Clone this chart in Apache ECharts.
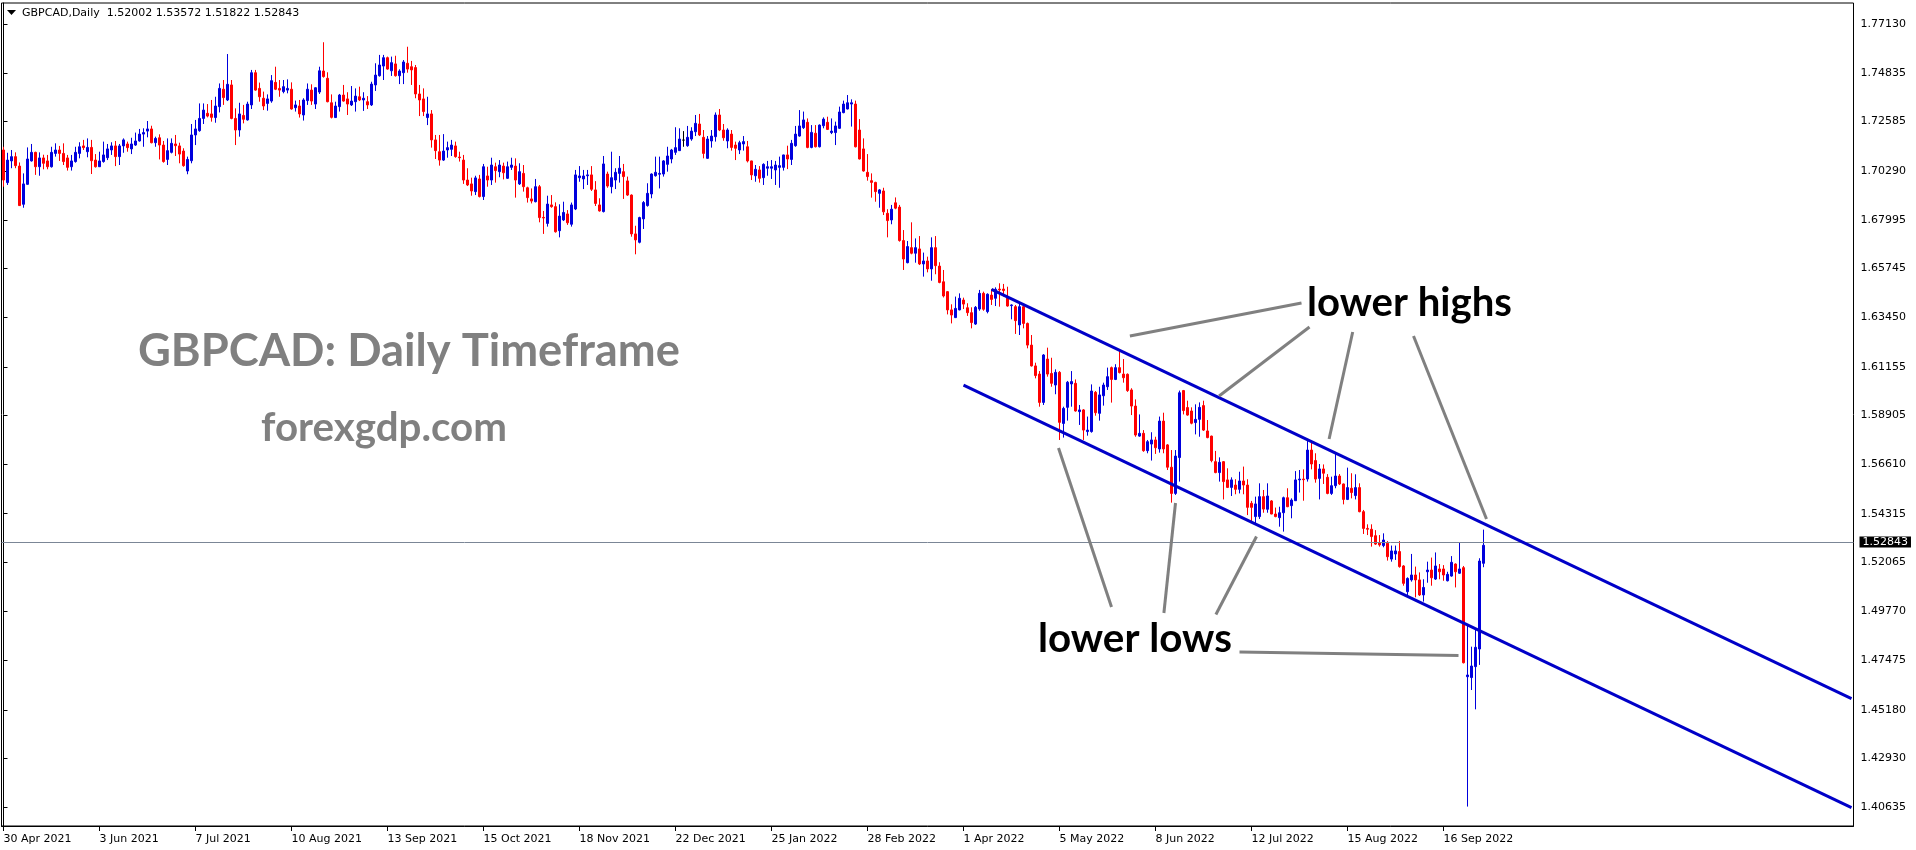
<!DOCTYPE html>
<html><head><meta charset="utf-8">
<script src="https://cdn.jsdelivr.net/npm/echarts@6/dist/echarts.min.js"></script>
<style>html,body{margin:0;padding:0;background:#fff}#c{width:1916px;height:850px}</style>
</head><body><div id="c"></div>
<script>
// ---------- data ----------
const symbolName = 'GBPCAD';
const timeframe = 'Daily';
const dateLabels = ['30 Apr 2021','3 Jun 2021','7 Jul 2021','10 Aug 2021','13 Sep 2021','15 Oct 2021','18 Nov 2021','22 Dec 2021','25 Jan 2022','28 Feb 2022','1 Apr 2022','5 May 2022','8 Jun 2022','12 Jul 2022','15 Aug 2022','16 Sep 2022'];
const barsPerLabel = 24;
const priceTicks = [1.77130,1.74835,1.72585,1.70290,1.67995,1.65745,1.63450,1.61155,1.58905,1.56610,1.54315,1.52065,1.49770,1.47475,1.45180,1.42930,1.40635];
const axisMin = 1.39765, axisMax = 1.78108;
const lastPrice = 1.52843;

const opens = [
1.7126,1.6974,1.7075,1.7095,1.7051,1.6873,1.6966,1.7075,1.7115,1.7048,
1.7089,1.7075,1.7048,1.7110,1.7126,1.7110,1.7089,1.7048,1.7072,1.7110,
1.7145,1.7118,1.7138,1.7079,1.7048,1.7072,1.7090,1.7126,1.7145,1.7095,
1.7145,1.7154,1.7131,1.7149,1.7168,1.7200,1.7214,1.7224,1.7160,1.7183,
1.7149,1.7082,1.7115,1.7154,1.7145,1.7121,1.7028,1.7076,1.7196,1.7216,
1.7273,1.7297,1.7294,1.7277,1.7328,1.7409,1.7359,1.7429,1.7273,1.7219,
1.7287,1.7266,1.7336,1.7486,1.7413,1.7367,1.7343,1.7354,1.7441,1.7413,
1.7398,1.7405,1.7409,1.7323,1.7331,1.7289,1.7356,1.7405,1.7340,1.7396,
1.7494,1.7460,1.7346,1.7277,1.7328,1.7382,1.7364,1.7336,1.7351,1.7374,
1.7359,1.7351,1.7336,1.7429,1.7472,1.7517,1.7556,1.7495,1.7527,1.7472,
1.7486,1.7530,1.7514,1.7510,1.7387,1.7364,1.7277,1.7294,1.7173,1.7118,
1.7079,1.7126,1.7129,1.7145,1.7093,1.7079,1.6986,1.6968,1.6932,1.6991,
1.6909,1.7005,1.6986,1.7048,1.7025,1.7051,1.6994,1.7045,1.7051,1.6968,
1.7017,1.6950,1.6898,1.6885,1.6955,1.6812,1.6784,1.6870,1.6862,1.6750,
1.6800,1.6828,1.6780,1.6851,1.6997,1.6991,1.7006,1.7010,1.6940,1.6870,
1.6839,1.7014,1.6955,1.6986,1.7017,1.7025,1.6982,1.6916,1.6735,1.6696,
1.6805,1.6867,1.6921,1.7006,1.7013,1.7014,1.7059,1.7084,1.7115,1.7123,
1.7172,1.7146,1.7177,1.7211,1.7247,1.7185,1.7087,1.7168,1.7188,1.7289,
1.7219,1.7168,1.7200,1.7149,1.7126,1.7154,1.7141,1.7075,1.7006,1.7033,
1.6997,1.7041,1.7041,1.7033,1.7045,1.7045,1.7103,1.7082,1.7146,1.7191,
1.7230,1.7255,1.7138,1.7204,1.7141,1.7239,1.7255,1.7207,1.7207,1.7227,
1.7300,1.7317,1.7340,1.7340,1.7219,1.7131,1.7022,1.6983,1.6975,1.6924,
1.6935,1.6831,1.6800,1.6880,1.6860,1.6704,1.6601,1.6671,1.6645,1.6665,
1.6595,1.6609,1.6572,1.6671,1.6585,1.6512,1.6466,1.6381,1.6345,1.6381,
1.6427,1.6391,1.6368,1.6315,1.6385,1.6458,1.6373,1.6450,1.6435,1.6478,
1.6478,1.6439,1.6401,1.6396,1.6311,1.6396,1.6318,1.6217,1.6120,1.6082,
1.5950,1.6152,1.6085,1.6031,1.6090,1.5852,1.5927,1.6036,1.6039,1.5907,
1.5915,1.5814,1.5814,1.5997,1.5899,1.5981,1.6023,1.6112,1.6057,1.6112,
1.6082,1.6081,1.6008,1.5933,1.5793,1.5806,1.5725,1.5756,1.5775,1.5733,
1.5863,1.5752,1.5648,1.5526,1.5693,1.6005,1.5926,1.5910,1.5856,1.5871,
1.5935,1.5817,1.5793,1.5674,1.5623,1.5674,1.5589,1.5554,1.5565,1.5545,
1.5584,1.5565,1.5480,1.5418,1.5418,1.5511,1.5452,1.5491,1.5430,1.5413,
1.5436,1.5506,1.5469,1.5492,1.5589,1.5593,1.5593,1.5728,1.5679,1.5596,
1.5640,1.5601,1.5526,1.5562,1.5607,1.5570,1.5498,1.5550,1.5516,1.5553,
1.5441,1.5363,1.5359,1.5329,1.5297,1.5283,1.5294,1.5220,1.5244,1.5255,
1.5188,1.5068,1.5123,1.5146,1.5123,1.5053,1.5161,1.5169,1.5127,1.5174,
1.5174,1.5119,1.5141,1.5197,1.5154,1.5180,1.4672,1.4668,1.4719,1.4801,
1.52002];

const highs = [
1.7141,1.7113,1.7126,1.7115,1.7068,1.7017,1.7138,1.7154,1.7118,1.7115,
1.7104,1.7103,1.7141,1.7157,1.7145,1.7157,1.7103,1.7103,1.7141,1.7162,
1.7173,1.7180,1.7173,1.7107,1.7118,1.7165,1.7154,1.7162,1.7168,1.7154,
1.7180,1.7165,1.7183,1.7207,1.7224,1.7227,1.7261,1.7239,1.7188,1.7199,
1.7168,1.7180,1.7180,1.7196,1.7160,1.7134,1.7095,1.7247,1.7266,1.7343,
1.7343,1.7340,1.7359,1.7374,1.7436,1.7452,1.7573,1.7452,1.7320,1.7346,
1.7336,1.7351,1.7499,1.7499,1.7440,1.7398,1.7385,1.7475,1.7514,1.7452,
1.7452,1.7455,1.7441,1.7356,1.7359,1.7367,1.7436,1.7432,1.7418,1.7514,
1.7628,1.7488,1.7385,1.7351,1.7387,1.7429,1.7395,1.7424,1.7413,1.7421,
1.7395,1.7377,1.7444,1.7530,1.7569,1.7569,1.7561,1.7561,1.7565,1.7502,
1.7545,1.7607,1.7541,1.7522,1.7429,1.7413,1.7374,1.7312,1.7196,1.7196,
1.7200,1.7165,1.7173,1.7165,1.7118,1.7103,1.7041,1.6997,1.7006,1.7010,
1.7061,1.7048,1.7090,1.7067,1.7079,1.7067,1.7072,1.7090,1.7087,1.7064,
1.7056,1.6955,1.6947,1.6991,1.6963,1.6842,1.6913,1.6916,1.6882,1.6873,
1.6885,1.6846,1.6881,1.7033,1.7051,1.7033,1.7033,1.7051,1.6981,1.6901,
1.7098,1.7025,1.7118,1.7041,1.7098,1.7061,1.7002,1.6919,1.6773,1.6815,
1.6888,1.6971,1.7017,1.7095,1.7095,1.7079,1.7141,1.7131,1.7232,1.7227,
1.7214,1.7238,1.7232,1.7289,1.7294,1.7219,1.7191,1.7219,1.7301,1.7317,
1.7247,1.7227,1.7219,1.7165,1.7169,1.7191,1.7168,1.7076,1.7056,1.7051,
1.7064,1.7075,1.7079,1.7075,1.7095,1.7104,1.7146,1.7173,1.7238,1.7312,
1.7305,1.7273,1.7242,1.7242,1.7245,1.7278,1.7281,1.7273,1.7258,1.7328,
1.7356,1.7382,1.7362,1.7356,1.7270,1.7180,1.7107,1.7017,1.6978,1.6944,
1.6950,1.6850,1.6870,1.6905,1.6870,1.6753,1.6702,1.6789,1.6714,1.6725,
1.6648,1.6629,1.6719,1.6725,1.6603,1.6567,1.6469,1.6407,1.6443,1.6458,
1.6438,1.6412,1.6393,1.6399,1.6474,1.6466,1.6458,1.6478,1.6486,1.6505,
1.6502,1.6489,1.6407,1.6404,1.6412,1.6407,1.6322,1.6264,1.6135,1.6096,
1.6175,1.6205,1.6158,1.6104,1.6096,1.5930,1.6050,1.6096,1.6057,1.5938,
1.5919,1.5884,1.6034,1.6003,1.6023,1.6042,1.6112,1.6117,1.6128,1.6189,
1.6152,1.6085,1.6016,1.5964,1.5894,1.5821,1.5775,1.5811,1.5790,1.5884,
1.5902,1.5756,1.5728,1.5728,1.6005,1.6008,1.5958,1.5927,1.5941,1.5950,
1.5958,1.5868,1.5795,1.5724,1.5694,1.5677,1.5643,1.5601,1.5592,1.5627,
1.5651,1.5592,1.5491,1.5511,1.5573,1.5542,1.5573,1.5495,1.5460,1.5464,
1.5511,1.5550,1.5503,1.5630,1.5635,1.5638,1.5770,1.5762,1.5713,1.5663,
1.5661,1.5616,1.5604,1.5713,1.5616,1.5572,1.5646,1.5620,1.5615,1.5573,
1.5449,1.5382,1.5382,1.5355,1.5332,1.5340,1.5304,1.5283,1.5283,1.5304,
1.5192,1.5135,1.5244,1.5185,1.5158,1.5126,1.5208,1.5227,1.5251,1.5197,
1.5192,1.5161,1.5234,1.5200,1.5298,1.5188,1.4913,1.4812,1.4897,1.5224,
1.53572];

const lows = [
1.6955,1.6963,1.7041,1.7041,1.6865,1.6857,1.6964,1.7072,1.7010,1.7006,
1.7036,1.7036,1.7044,1.7095,1.7075,1.7056,1.7030,1.7030,1.7067,1.7087,
1.7126,1.7092,1.7014,1.7044,1.7047,1.7067,1.7079,1.7103,1.7051,1.7056,
1.7113,1.7118,1.7107,1.7145,1.7165,1.7141,1.7185,1.7157,1.7141,1.7082,
1.7067,1.7056,1.7110,1.7098,1.7064,1.7048,1.7013,1.7064,1.7149,1.7211,
1.7247,1.7278,1.7258,1.7253,1.7301,1.7336,1.7354,1.7269,1.7149,1.7188,
1.7250,1.7263,1.7317,1.7402,1.7351,1.7312,1.7309,1.7346,1.7405,1.7374,
1.7390,1.7390,1.7314,1.7305,1.7277,1.7263,1.7336,1.7336,1.7317,1.7387,
1.7463,1.7348,1.7273,1.7275,1.7305,1.7351,1.7289,1.7331,1.7305,1.7354,
1.7308,1.7317,1.7331,1.7401,1.7468,1.7452,1.7500,1.7471,1.7468,1.7433,
1.7433,1.7486,1.7429,1.7367,1.7284,1.7284,1.7242,1.7137,1.7084,1.7053,
1.7075,1.7090,1.7098,1.7090,1.7072,1.6968,1.6958,1.6913,1.6916,1.6905,
1.6893,1.6955,1.6963,1.6974,1.6999,1.6989,1.6991,1.7033,1.6904,1.6963,
1.6932,1.6881,1.6877,1.6882,1.6789,1.6735,1.6769,1.6857,1.6741,1.6719,
1.6795,1.6777,1.6769,1.6846,1.6978,1.6944,1.6963,1.6935,1.6865,1.6839,
1.6835,1.6950,1.6924,1.6944,1.6974,1.6898,1.6912,1.6722,1.6640,1.6691,
1.6758,1.6862,1.6901,1.7002,1.6947,1.7002,1.7025,1.7064,1.7103,1.7121,
1.7141,1.7141,1.7169,1.7191,1.7191,1.7087,1.7084,1.7137,1.7165,1.7214,
1.7169,1.7134,1.7123,1.7079,1.7107,1.7123,1.7068,1.6986,1.6978,1.6974,
1.6963,1.7006,1.6991,1.6963,1.6950,1.7030,1.7037,1.7056,1.7141,1.7188,
1.7224,1.7134,1.7134,1.7138,1.7138,1.7227,1.7219,1.7200,1.7149,1.7224,
1.7297,1.7315,1.7235,1.7138,1.7082,1.7025,1.6983,1.6904,1.6885,1.6857,
1.6823,1.6719,1.6780,1.6850,1.6699,1.6567,1.6598,1.6640,1.6601,1.6590,
1.6536,1.6556,1.6517,1.6547,1.6505,1.6439,1.6360,1.6318,1.6343,1.6379,
1.6385,1.6353,1.6295,1.6311,1.6377,1.6377,1.6365,1.6404,1.6399,1.6396,
1.6443,1.6396,1.6337,1.6269,1.6264,1.6295,1.6202,1.6117,1.6062,1.5930,
1.5938,1.6070,1.6023,1.5988,1.5775,1.5786,1.5865,1.5930,1.5907,1.5845,
1.5775,1.5795,1.5809,1.5888,1.5865,1.5935,1.6008,1.5949,1.6054,1.6085,
1.6042,1.5999,1.5891,1.5790,1.5790,1.5720,1.5713,1.5679,1.5710,1.5716,
1.5713,1.5635,1.5483,1.5519,1.5581,1.5894,1.5888,1.5848,1.5801,1.5790,
1.5817,1.5783,1.5671,1.5620,1.5581,1.5498,1.5551,1.5514,1.5522,1.5526,
1.5522,1.5425,1.5394,1.5379,1.5407,1.5436,1.5436,1.5429,1.5415,1.5371,
1.5348,1.5462,1.5410,1.5491,1.5530,1.5492,1.5581,1.5638,1.5576,1.5498,
1.5570,1.5522,1.5519,1.5550,1.5565,1.5475,1.5495,1.5503,1.5498,1.5438,
1.5337,1.5332,1.5278,1.5286,1.5278,1.5275,1.5213,1.5208,1.5216,1.5180,
1.5096,1.5045,1.5115,1.5042,1.5048,1.5022,1.5110,1.5096,1.5123,1.5126,
1.5119,1.5116,1.5138,1.5088,1.5151,1.4734,1.4067,1.4610,1.4520,1.4727,
1.51822];

const closes = [
1.6986,1.7079,1.7095,1.7053,1.6867,1.6968,1.7084,1.7115,1.7048,1.7089,
1.7064,1.7048,1.7115,1.7126,1.7110,1.7072,1.7045,1.7075,1.7115,1.7141,
1.7137,1.7138,1.7076,1.7048,1.7075,1.7103,1.7131,1.7145,1.7095,1.7145,
1.7173,1.7137,1.7154,1.7168,1.7200,1.7207,1.7224,1.7160,1.7180,1.7149,
1.7072,1.7123,1.7157,1.7146,1.7107,1.7053,1.7082,1.7196,1.7224,1.7273,
1.7312,1.7284,1.7278,1.7331,1.7413,1.7370,1.7432,1.7273,1.7219,1.7294,
1.7269,1.7340,1.7486,1.7405,1.7374,1.7331,1.7364,1.7449,1.7409,1.7405,
1.7421,1.7413,1.7317,1.7336,1.7294,1.7359,1.7409,1.7354,1.7416,1.7495,
1.7468,1.7351,1.7278,1.7331,1.7382,1.7354,1.7340,1.7354,1.7377,1.7359,
1.7367,1.7336,1.7433,1.7475,1.7522,1.7556,1.7503,1.7533,1.7472,1.7494,
1.7536,1.7503,1.7499,1.7387,1.7359,1.7305,1.7294,1.7173,1.7123,1.7079,
1.7121,1.7137,1.7149,1.7095,1.7090,1.6986,1.6963,1.6935,1.6996,1.6909,
1.7048,1.6986,1.7056,1.7030,1.7056,1.7020,1.7048,1.7056,1.6986,1.7025,
1.6955,1.6904,1.6888,1.6955,1.6811,1.6809,1.6874,1.6862,1.6745,1.6818,
1.6835,1.6787,1.6870,1.7010,1.7005,1.7005,1.7010,1.6943,1.6877,1.6842,
1.7061,1.6958,1.6997,1.7022,1.7041,1.7002,1.6916,1.6735,1.6707,1.6811,
1.6881,1.6924,1.7014,1.7022,1.7017,1.7075,1.7098,1.7126,1.7137,1.7177,
1.7172,1.7185,1.7214,1.7250,1.7196,1.7110,1.7177,1.7191,1.7289,1.7219,
1.7183,1.7219,1.7138,1.7134,1.7160,1.7165,1.7075,1.7010,1.7036,1.6994,
1.7059,1.7048,1.7048,1.7056,1.7053,1.7103,1.7084,1.7157,1.7200,1.7238,
1.7266,1.7138,1.7208,1.7141,1.7242,1.7270,1.7222,1.7214,1.7238,1.7303,
1.7340,1.7346,1.7346,1.7141,1.7084,1.7028,1.7002,1.6975,1.6932,1.6940,
1.6838,1.6797,1.6850,1.6855,1.6704,1.6618,1.6676,1.6645,1.6671,1.6595,
1.6609,1.6572,1.6671,1.6587,1.6509,1.6446,1.6381,1.6357,1.6388,1.6435,
1.6408,1.6368,1.6322,1.6393,1.6458,1.6384,1.6454,1.6430,1.6477,1.6474,
1.6471,1.6399,1.6404,1.6331,1.6396,1.6318,1.6217,1.6120,1.6075,1.5950,
1.6171,1.6082,1.6039,1.6090,1.5857,1.5922,1.6044,1.6047,1.5910,1.5915,
1.5821,1.5821,1.6003,1.5902,1.5985,1.6031,1.6070,1.6057,1.6112,1.6089,
1.6065,1.6005,1.5933,1.5798,1.5806,1.5725,1.5767,1.5775,1.5739,1.5863,
1.5733,1.5648,1.5526,1.5700,1.5995,1.5912,1.5891,1.5853,1.5871,1.5927,
1.5821,1.5786,1.5679,1.5623,1.5671,1.5581,1.5554,1.5589,1.5545,1.5584,
1.5565,1.5461,1.5461,1.5477,1.5511,1.5453,1.5514,1.5430,1.5418,1.5436,
1.5506,1.5464,1.5495,1.5589,1.5593,1.5590,1.5728,1.5663,1.5593,1.5640,
1.5620,1.5526,1.5562,1.5607,1.5570,1.5498,1.5553,1.5530,1.5553,1.5441,
1.5363,1.5359,1.5325,1.5290,1.5286,1.5309,1.5231,1.5258,1.5258,1.5185,
1.5107,1.5130,1.5146,1.5123,1.5053,1.5088,1.5169,1.5133,1.5188,1.5161,
1.5146,1.5149,1.5205,1.5161,1.5174,1.4737,1.4680,1.4722,1.4809,1.5211,
1.52843];

// trend channel anchors: [bar index, price]
const channelUpper = [[247, 1.64765], [462, 1.45696]];
const channelLower = [[240, 1.60306], [462, 1.40617]];
// pointer lines from labels: [[bar, price],[bar, price]]
const highPointers = [
  [[324.5, 1.64131], [281.6, 1.62594]],
  [[326.5, 1.63013], [303.9, 1.59798]],
  [[337.3, 1.62780], [331.4, 1.57795]],
  [[352.5, 1.62594], [370.75, 1.54068]]
];
const lowPointers = [
  [[263.75, 1.57376], [277.0, 1.49968]],
  [[293.0, 1.54813], [290.1, 1.49688]],
  [[313.25, 1.53253], [303.1, 1.49618]],
  [[309.0, 1.47871], [363.75, 1.47708]]
];
const titleText = 'GBPCAD: Daily Timeframe';
const siteText = 'forexgdp.com';
const highsText = 'lower highs';
const lowsText = 'lower lows';

// ---------- chart ----------
const slotCount = 463;
const categories = Array.from({length: slotCount}, (_, i) => String(i));
const ohlc = opens.map((o, i) => [o, closes[i], lows[i], highs[i]]);
const showLabel = (idx) => idx % barsPerLabel === 0 && idx / barsPerLabel < dateLabels.length;
const n = opens.length - 1;
const headerText = `${symbolName},${timeframe}  ${opens[n].toFixed(5)} ${highs[n].toFixed(5)} ${lows[n].toFixed(5)} ${closes[n].toFixed(5)}`;

function fitFont(text, weight, family, targetWidth) {
  const ctx = document.createElement('canvas').getContext('2d');
  ctx.font = `${weight} 100px ${family}`;
  return 100 * targetWidth / ctx.measureText(text).width;
}
const calFam = 'Lato';
const titleSize = fitFont(titleText, 'bold', calFam, 542);
const siteSize = fitFont(siteText, 'bold', calFam, 246);
const highsSize = fitFont(highsText, 'bold', calFam, 205);
const lowsSize = fitFont(lowsText, 'bold', calFam, 194);

const chart = echarts.init(document.getElementById('c'), null, {renderer: 'canvas'});
const axisFont = {fontFamily: 'DejaVu Sans', fontSize: 11, color: '#000'};
function txt(text, x, y, size, color) {
  return {type: 'text', silent: true, z: 100,
    style: {text, x, y, font: `bold ${size}px ${calFam}`, fill: color,
      textAlign: 'left', textVerticalAlign: 'middle', align: 'left', verticalAlign: 'middle'}};
}
const option = {
  animation: false,
  backgroundColor: '#ffffff',
  grid: {left: 1.5, top: 3, width: 1852, height: 823, show: true, borderColor: '#000', borderWidth: 1, containLabel: false},
  xAxis: [
    {type: 'category', data: categories, boundaryGap: true, gridIndex: 0,
     axisLine: {show: true, lineStyle: {color: '#000', width: 1}},
     axisTick: {show: true, alignWithLabel: true, length: 5, interval: showLabel, lineStyle: {color: '#000'}},
     axisLabel: Object.assign({show: true, interval: showLabel, align: 'left', margin: 8,
       formatter: (v) => dateLabels[Number(v) / barsPerLabel] || ''}, axisFont),
     splitLine: {show: false}},
    {type: 'value', min: -0.5, max: slotCount - 0.5, show: false, gridIndex: 0}
  ],
  yAxis: [{type: 'value', position: 'right', min: axisMin, max: axisMax,
    axisLine: {show: true, lineStyle: {color: '#000', width: 1}},
    axisTick: {show: true, length: 4, customValues: priceTicks, lineStyle: {color: '#000'}},
    axisLabel: Object.assign({customValues: priceTicks, margin: 7, formatter: (v) => v.toFixed(5)}, axisFont),
    splitLine: {show: false}}],
  series: [
    {type: 'candlestick', xAxisIndex: 0, yAxisIndex: 0, data: ohlc, barWidth: 2, silent: true,
     itemStyle: {color: '#0000DD', color0: '#FF0000', borderColor: '#0000DD', borderColor0: '#FF0000', borderColorDoji: '#000000', borderWidth: 1},
     markLine: {silent: true, symbol: ['none', 'none'], animation: false,
       data: [{yAxis: lastPrice}],
       lineStyle: {color: '#7b8696', width: 1, type: 'solid'},
       label: {show: true, position: 'end', distance: 6, formatter: lastPrice.toFixed(5),
         backgroundColor: '#000', color: '#fff', fontFamily: 'DejaVu Sans', fontSize: 11, lineHeight: 11, padding: [0, 3, 0, 3]},
       emphasis: {disabled: true}}},
    {type: 'line', xAxisIndex: 1, yAxisIndex: 0, data: channelUpper, symbol: 'none', silent: true, z: 5,
     lineStyle: {color: '#0000C8', width: 3}},
    {type: 'line', xAxisIndex: 1, yAxisIndex: 0, data: channelLower, symbol: 'none', silent: true, z: 5,
     lineStyle: {color: '#0000C8', width: 3}},
    {type: 'lines', coordinateSystem: 'cartesian2d', xAxisIndex: 1, yAxisIndex: 0, silent: true, z: 6,
     data: highPointers.concat(lowPointers).map(c => ({coords: c})),
     lineStyle: {color: '#808080', width: 3, opacity: 1, curveness: 0}}
  ],
  graphic: [
    {type: 'polygon', silent: true, shape: {points: [[7, 10], [16, 10], [11.5, 15]]}, style: {fill: '#000'}},
    {type: 'text', silent: true, style: {text: headerText, x: 22, y: 13, font: '11px "DejaVu Sans"', fill: '#000',
      textVerticalAlign: 'middle', verticalAlign: 'middle'}},
    txt(titleText, 138, 351, titleSize, '#808080'),
    txt(siteText, 261, 428, siteSize, '#808080'),
    txt(highsText, 1307, 303, highsSize, '#000'),
    txt(lowsText, 1038, 639, lowsSize, '#000')
  ]
};
chart.setOption(option);
</script></body></html>
